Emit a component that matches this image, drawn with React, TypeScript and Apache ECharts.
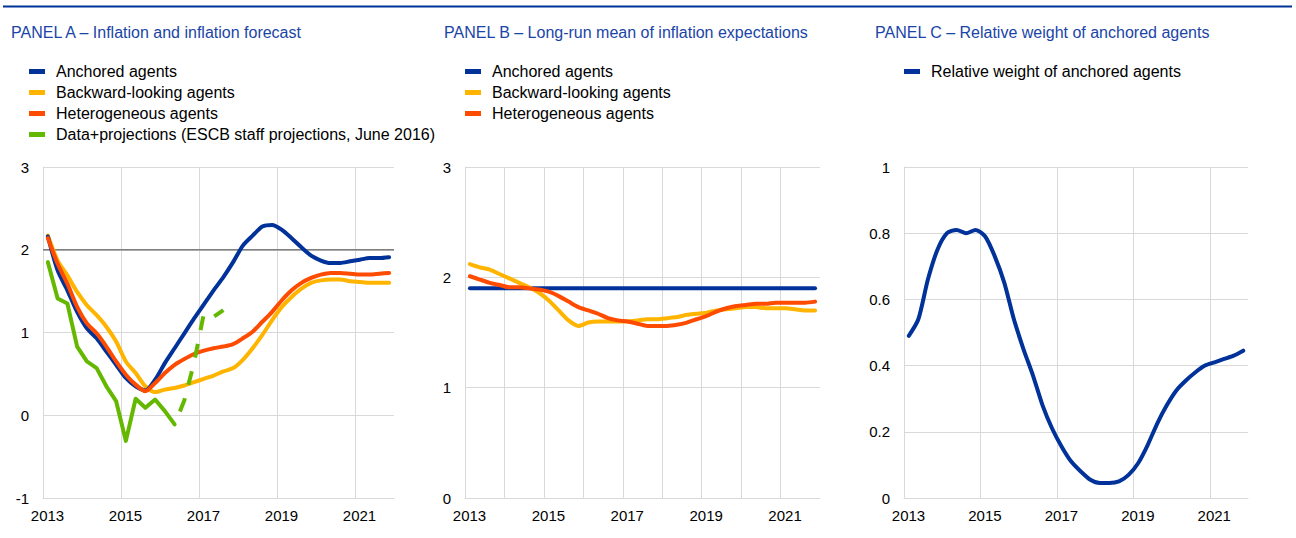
import React, { useEffect, useRef } from "react";
import * as echarts from "echarts";

// ---------- data ----------
const QUARTERS = [
  "2013Q1", "2013Q2", "2013Q3", "2013Q4", "2014Q1", "2014Q2", "2014Q3", "2014Q4",
  "2015Q1", "2015Q2", "2015Q3", "2015Q4", "2016Q1", "2016Q2", "2016Q3", "2016Q4",
  "2017Q1", "2017Q2", "2017Q3", "2017Q4", "2018Q1", "2018Q2", "2018Q3", "2018Q4",
  "2019Q1", "2019Q2", "2019Q3", "2019Q4", "2020Q1", "2020Q2", "2020Q3", "2020Q4",
  "2021Q1", "2021Q2", "2021Q3", "2021Q4",
];

const YEAR_TICKS = ["2013", "2015", "2017", "2019", "2021"];

const TITLES = [
  "PANEL A \u2013 Inflation and inflation forecast",
  "PANEL B \u2013 Long-run mean of inflation expectations",
  "PANEL C \u2013 Relative weight of anchored agents",
];

const NAME_ANCHORED = "Anchored agents";
const NAME_BACKWARD = "Backward-looking agents";
const NAME_HETERO = "Heterogeneous agents";
const NAME_DATA = "Data+projections (ESCB staff projections, June 2016)";
const NAME_WEIGHT = "Relative weight of anchored agents";

// Panel A – inflation
const A_ANCHORED = [2.16, 1.75, 1.51, 1.25, 1.05, 0.93, 0.77, 0.61, 0.45, 0.35, 0.3, 0.43, 0.63, 0.81, 0.99, 1.17, 1.34, 1.51, 1.67, 1.85, 2.05, 2.17, 2.28, 2.3, 2.24, 2.14, 2.03, 1.93, 1.87, 1.84, 1.84, 1.86, 1.88, 1.9, 1.9, 1.91];
const A_BACKWARD = [2.17, 1.87, 1.69, 1.49, 1.33, 1.21, 1.07, 0.89, 0.65, 0.51, 0.35, 0.28, 0.31, 0.33, 0.36, 0.4, 0.44, 0.48, 0.53, 0.57, 0.67, 0.81, 0.97, 1.15, 1.31, 1.43, 1.53, 1.6, 1.63, 1.64, 1.64, 1.62, 1.61, 1.6, 1.6, 1.6];
const A_HETERO = [2.14, 1.83, 1.59, 1.31, 1.11, 0.99, 0.83, 0.65, 0.49, 0.37, 0.29, 0.39, 0.51, 0.61, 0.68, 0.74, 0.78, 0.81, 0.83, 0.86, 0.93, 1.01, 1.13, 1.25, 1.39, 1.51, 1.6, 1.66, 1.7, 1.72, 1.72, 1.71, 1.7, 1.7, 1.71, 1.72];
const A_DATA = [1.85, 1.41, 1.35, 0.83, 0.65, 0.57, 0.35, 0.17, -0.31, 0.2, 0.09, 0.19, 0.05, -0.11];
const A_PROJ_START = 13; // index into QUARTERS of first projection point
const A_PROJ = [-0.11, 0.18, 0.64, 1.23, 1.19, 1.27];
const A_TARGET = 2;

// Panel B – long-run mean of inflation expectations
const B_ANCHORED = [1.9, 1.9, 1.9, 1.9, 1.9, 1.9, 1.9, 1.9, 1.9, 1.9, 1.9, 1.9, 1.9, 1.9, 1.9, 1.9, 1.9, 1.9, 1.9, 1.9, 1.9, 1.9, 1.9, 1.9, 1.9, 1.9, 1.9, 1.9, 1.9, 1.9, 1.9, 1.9, 1.9, 1.9, 1.9, 1.9];
const B_BACKWARD = [2.12, 2.09, 2.07, 2.03, 1.99, 1.95, 1.91, 1.86, 1.79, 1.7, 1.61, 1.56, 1.59, 1.6, 1.6, 1.6, 1.6, 1.61, 1.62, 1.62, 1.63, 1.64, 1.66, 1.67, 1.68, 1.7, 1.71, 1.72, 1.73, 1.73, 1.72, 1.72, 1.72, 1.71, 1.7, 1.7];
const B_HETERO = [2.01, 1.98, 1.95, 1.93, 1.91, 1.91, 1.9, 1.89, 1.87, 1.83, 1.78, 1.73, 1.7, 1.67, 1.63, 1.61, 1.6, 1.58, 1.56, 1.56, 1.56, 1.57, 1.59, 1.62, 1.65, 1.69, 1.72, 1.74, 1.75, 1.76, 1.76, 1.77, 1.77, 1.77, 1.77, 1.78];

// Panel C – relative weight of anchored agents
const C_WEIGHT = [0.49, 0.54, 0.66, 0.75, 0.8, 0.81, 0.8, 0.81, 0.79, 0.73, 0.65, 0.54, 0.45, 0.37, 0.28, 0.21, 0.155, 0.11, 0.08, 0.055, 0.045, 0.045, 0.05, 0.07, 0.105, 0.16, 0.225, 0.28, 0.325, 0.355, 0.38, 0.4, 0.41, 0.42, 0.43, 0.445];

// ---------- styling ----------
const BLUE = "#003299";
const YELLOW = "#ffb400";
const ORANGE = "#ff4b00";
const GREEN = "#65b800";
const GRID = "#d9d9d9";
const FONT = "Liberation Sans, Arial, Helvetica, sans-serif";
const TITLE_COLOR = "#1a45a6";

const BASE_YEAR = 2013;
const qx = (label: string) => {
  const y = parseInt(label.slice(0, 4), 10);
  const q = parseInt(label.slice(5), 10);
  return y - BASE_YEAR + (q - 0.5) / 4;
};
const pairs = (vals: number[], start = 0) => vals.map((v, i) => [qx(QUARTERS[start + i]), v]);

export default function App() {
  const ref = useRef<HTMLDivElement>(null);

  useEffect(() => {
    if (!ref.current) return;
    const chart = echarts.init(ref.current, undefined, { renderer: "svg" });

    const grids = [
      { left: 43, top: 167, width: 351, height: 331 },
      { left: 465, top: 167, width: 355, height: 331 },
      { left: 904, top: 167, width: 344, height: 331 },
    ];

    const xAxisBase = (interval: number) => ({
      type: "value",
      min: 0,
      max: 9,
      interval,
      axisLine: { show: true, onZero: false, lineStyle: { color: GRID, width: 1 } },
      axisTick: { show: false },
      splitLine: { show: true, showMinLine: false, showMaxLine: false, lineStyle: { color: GRID, width: 1 } },
      axisLabel: {
        show: true,
        showMaxLabel: false,
        margin: 10,
        fontSize: 15,
        fontFamily: FONT,
        color: "#000",
        padding: [0, 0, 0, 9],
        formatter: (v: number) => {
          const s = String(BASE_YEAR + Math.round(v));
          return YEAR_TICKS.indexOf(s) >= 0 ? s : "";
        },
      },
    });

    const yAxisBase = (min: number, max: number, interval: number) => ({
      type: "value",
      min,
      max,
      interval,
      axisLine: { show: true, lineStyle: { color: GRID, width: 1 } },
      axisTick: { show: false },
      splitLine: { show: true, lineStyle: { color: GRID, width: 1 } },
      axisLabel: { margin: 14, fontSize: 15, fontFamily: FONT, color: "#000" },
    });

    const lineSeries = (name: string, color: string, data: any[], gi: number, z: number, extra: any = {}) => ({
      type: "line",
      name,
      xAxisIndex: gi,
      yAxisIndex: gi,
      data,
      color,
      symbol: "none",
      smooth: 0.25,
      z,
      lineStyle: { color, width: 4, cap: "round", join: "round" },
      emphasis: { disabled: true },
      ...extra,
    });

    const legend = (left: number, names: string[]) => ({
      left,
      top: 61,
      orient: "vertical",
      padding: 0,
      itemGap: 0,
      icon: "rect",
      itemWidth: 16,
      itemHeight: 5,
      selectedMode: false,
      itemStyle: { borderWidth: 0 },
      textStyle: { fontSize: 16, fontFamily: FONT, color: "#000", lineHeight: 21, padding: [0, 0, 0, 6] },
      data: names,
    });

    const option: any = {
      animation: false,
      backgroundColor: "#fff",
      grid: grids,
      xAxis: [xAxisBase(2), { ...xAxisBase(1), gridIndex: 1 }, { ...xAxisBase(2), gridIndex: 2 }],
      yAxis: [
        yAxisBase(-1, 3, 1),
        { ...yAxisBase(0, 3, 1), gridIndex: 1 },
        { ...yAxisBase(0, 1, 0.2), gridIndex: 2 },
      ],
      legend: [
        legend(29, [NAME_ANCHORED, NAME_BACKWARD, NAME_HETERO, NAME_DATA]),
        legend(465, [NAME_ANCHORED, NAME_BACKWARD, NAME_HETERO]),
        legend(904, [NAME_WEIGHT]),
      ],
      graphic: [
        { type: "line", shape: { x1: 3, y1: 6.5, x2: 1292, y2: 6.5 }, style: { stroke: BLUE, lineWidth: 2 } },
        ...TITLES.map((t, i) => ({
          type: "text",
          x: [11, 444, 875][i],
          y: 32,
          style: { text: t, fontSize: 16, fontFamily: FONT, fill: TITLE_COLOR, verticalAlign: "middle" },
        })),
      ],
      series: [
        {
          type: "line",
          name: "2% reference",
          xAxisIndex: 0,
          yAxisIndex: 0,
          data: [[0, A_TARGET], [9, A_TARGET]],
          symbol: "none",
          z: 1,
          lineStyle: { color: "#7f7f7f", width: 1.5 },
          emphasis: { disabled: true },
        },
        lineSeries(NAME_BACKWARD, YELLOW, pairs(A_BACKWARD), 0, 2),
        lineSeries(NAME_ANCHORED, BLUE, pairs(A_ANCHORED), 0, 3),
        lineSeries(NAME_HETERO, ORANGE, pairs(A_HETERO), 0, 4),
        lineSeries(NAME_DATA, GREEN, pairs(A_DATA), 0, 5, { smooth: false }),
        lineSeries("Projections (June 2016)", GREEN, pairs(A_PROJ, A_PROJ_START), 0, 5, {
          smooth: false,
          lineStyle: { color: GREEN, width: 4, type: [14, 14], dashOffset: 14, cap: "butt", join: "round" },
        }),

        lineSeries(NAME_ANCHORED, BLUE, pairs(B_ANCHORED), 1, 2),
        lineSeries(NAME_BACKWARD, YELLOW, pairs(B_BACKWARD), 1, 3),
        lineSeries(NAME_HETERO, ORANGE, pairs(B_HETERO), 1, 4),

        lineSeries(NAME_WEIGHT, BLUE, pairs(C_WEIGHT), 2, 2),
      ],
    };

    chart.setOption(option);
    return () => chart.dispose();
  }, []);

  return (
    <div
      ref={ref}
      style={{ position: "fixed", left: 0, top: 0, width: 1296, height: 538, background: "#fff" }}
    />
  );
}
